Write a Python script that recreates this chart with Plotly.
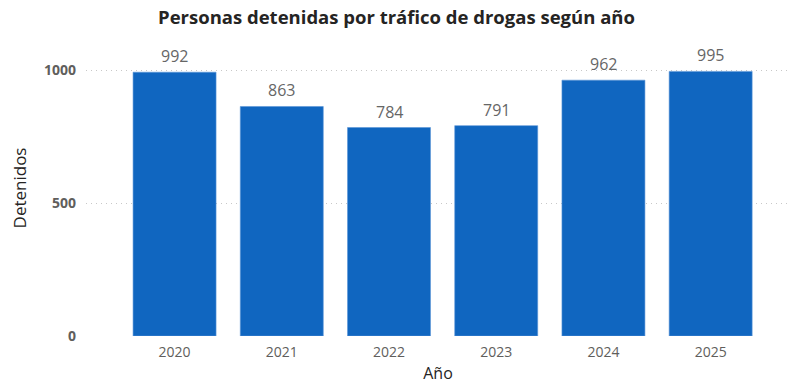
import plotly.graph_objects as go

years = ["2020", "2021", "2022", "2023", "2024", "2025"]
detenidos = [992, 863, 784, 791, 962, 995]

W, H = 793, 385

fig = go.Figure(go.Bar(
    x=years, y=detenidos,
    marker=dict(color="#1066C0", line=dict(color="#5A95D6", width=0.6)),
    width=0.774,
    hoverinfo="x+y",
))

for i, v in enumerate(detenidos):
    fig.add_annotation(x=i, y=v, xref="x", yref="y", text=str(v), showarrow=False,
                       yanchor="bottom", yshift=3,
                       font=dict(family="Open Sans", size=16, color="#666666"))

fig.update_layout(
    width=W, height=H,
    paper_bgcolor="white", plot_bgcolor="white",
    margin=dict(l=86, r=3, t=40, b=49),
    title=dict(text="<b>Personas detenidas por tráfico de drogas según año</b>",
               x=0.5, xanchor="center", y=1 - 18 / H, yanchor="middle",
               font=dict(family="Open Sans", size=18.5, color="#252423")),
    showlegend=False,
)
fig.update_xaxes(
    type="category", range=[-0.826, 5.74],
    tickfont=dict(family="Open Sans", size=14, color="#605E5C"),
    title=dict(text="Año", font=dict(family="Open Sans", size=16, color="#252423"), standoff=7),
    showgrid=False, showline=False, ticks="", ticklabelstandoff=6,
)
fig.update_yaxes(
    range=[0, 1113], tickvals=[0, 500, 1000], ticktext=["<b>0</b>", "<b>500</b>", "<b>1000</b>"],
    tickfont=dict(family="Open Sans", size=14, color="#605E5C"),
    title=dict(text="Detenidos", font=dict(family="Open Sans", size=17, color="#252423"), standoff=13),
    showgrid=True, gridcolor="#C8C8C8", griddash="1px,4px", gridwidth=1,
    zeroline=False, ticks="", ticklabelstandoff=9,
)

fig.write_html("out.html", config={"displayModeBar": False},
               post_script="document.body.style.margin='0';")
